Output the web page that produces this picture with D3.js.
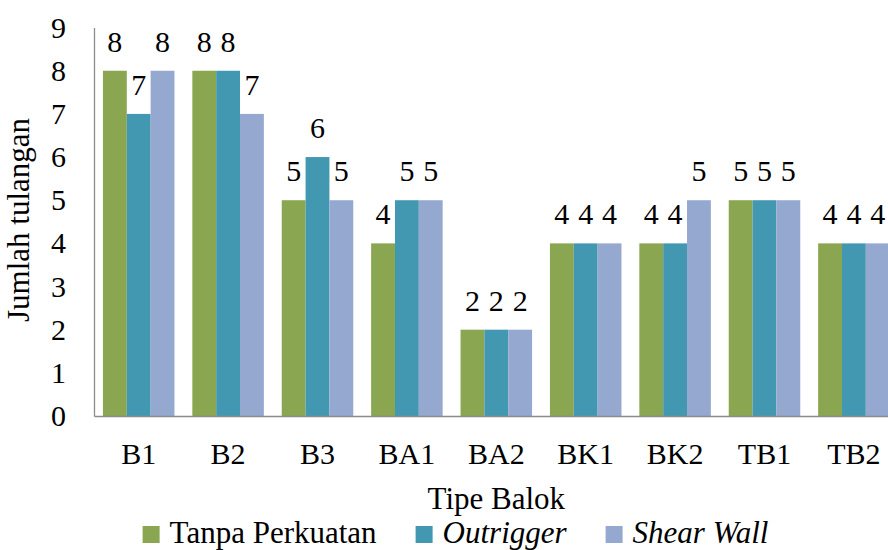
<!DOCTYPE html>
<html>
<head>
<meta charset="utf-8">
<script src="https://cdn.jsdelivr.net/npm/d3@7"></script>
<style>
  body { margin: 0; background: #fff; }
  svg { display: block; font-family: "Liberation Serif", "Times New Roman", serif; }
</style>
</head>
<body>
<svg width="888" height="550"></svg>
<script>
// data
var categories = ["B1", "B2", "B3", "BA1", "BA2", "BK1", "BK2", "TB1", "TB2"];
var seriesNames = ["Tanpa Perkuatan", "Outrigger", "Shear Wall"];
var tanpaPerkuatan = [8, 8, 5, 4, 2, 4, 4, 5, 4];
var outrigger = [7, 8, 6, 5, 2, 4, 4, 5, 4];
var shearWall = [8, 7, 5, 5, 2, 4, 5, 5, 4];
var yTicks = [0, 1, 2, 3, 4, 5, 6, 7, 8, 9];

var seriesValues = [tanpaPerkuatan, outrigger, shearWall];
var colors = ["#8aa650", "#4298b0", "#95a9d0"];
var italic = [false, true, true];

var svg = d3.select("svg");
var fontSize = 30;
var titleSize = 31;
var serif = '"Liberation Serif", "Times New Roman", serif';

var plotLeft = 94, plotRight = 898.6, plotTop = 27.6, plotBottom = 416;

var xScale = d3.scaleBand().domain(categories).range([plotLeft, plotRight])
    .paddingInner(0.2).paddingOuter(0.1);
var xInner = d3.scaleBand().domain(d3.range(seriesNames.length))
    .range([0, xScale.bandwidth()]);
var yScale = d3.scaleLinear().domain([0, 9]).range([plotBottom, plotTop]);

// rows for bars
var rows = [];
categories.forEach(function(c, i) {
    seriesValues.forEach(function(vals, s) {
        rows.push({cat: c, s: s, v: vals[i]});
    });
});

// bars
svg.append("g").selectAll("rect").data(rows).enter().append("rect")
    .attr("x", function(d) { return xScale(d.cat) + xInner(d.s); })
    .attr("y", function(d) { return yScale(d.v); })
    .attr("width", xInner.bandwidth())
    .attr("height", function(d) { return plotBottom - yScale(d.v); })
    .attr("fill", function(d) { return colors[d.s]; });

// data labels
svg.append("g").selectAll("text").data(rows).enter().append("text")
    .attr("x", function(d) { return xScale(d.cat) + xInner(d.s) + xInner.bandwidth() / 2; })
    .attr("y", function(d) { return yScale(d.v) - 19; })
    .attr("text-anchor", "middle")
    .attr("font-family", serif)
    .style("font-size", fontSize + "px")
    .attr("fill", "#000")
    .text(function(d) { return d.v; });

// y axis
var yAxis = svg.append("g")
    .attr("transform", "translate(" + plotLeft + ",0)")
    .call(d3.axisLeft(yScale).tickValues(yTicks).tickSize(0).tickPadding(28));
yAxis.attr("font-family", serif).attr("font-size", fontSize);
yAxis.select(".domain").attr("stroke", "#8c8c8c").attr("stroke-width", 1.3);
yAxis.selectAll("text").attr("fill", "#000");

// x axis
var xAxis = svg.append("g")
    .attr("transform", "translate(0," + plotBottom + ")")
    .call(d3.axisBottom(xScale).tickSize(0).tickPadding(27));
xAxis.attr("font-family", serif).attr("font-size", fontSize);
xAxis.select(".domain").attr("stroke", "#8c8c8c").attr("stroke-width", 1.3);
xAxis.selectAll("text").attr("fill", "#000");

// axis titles
svg.append("text")
    .attr("x", (plotLeft + plotRight) / 2)
    .attr("y", 509)
    .attr("text-anchor", "middle")
    .style("font-size", titleSize + "px")
    .text("Tipe Balok");

svg.append("text")
    .attr("transform", "translate(29,220) rotate(-90)")
    .attr("text-anchor", "middle")
    .style("font-size", titleSize + "px")
    .text("Jumlah tulangan");

// legend
var legend = svg.append("g");
var lx = 0;
seriesNames.forEach(function(name, i) {
    var g = legend.append("g").attr("transform", "translate(" + lx + ",0)");
    g.append("rect").attr("x", 0).attr("y", 526).attr("width", 17).attr("height", 17)
        .attr("fill", colors[i]);
    var t = g.append("text").attr("x", 27).attr("y", 543)
        .style("font-size", titleSize + "px")
        .style("font-style", italic[i] ? "italic" : "normal")
        .text(name);
    lx += 27 + t.node().getComputedTextLength() + 39;
});
var legendWidth = lx - 39;
legend.attr("transform", "translate(" + (455.5 - legendWidth / 2) + ",0)");
</script>
</body>
</html>
